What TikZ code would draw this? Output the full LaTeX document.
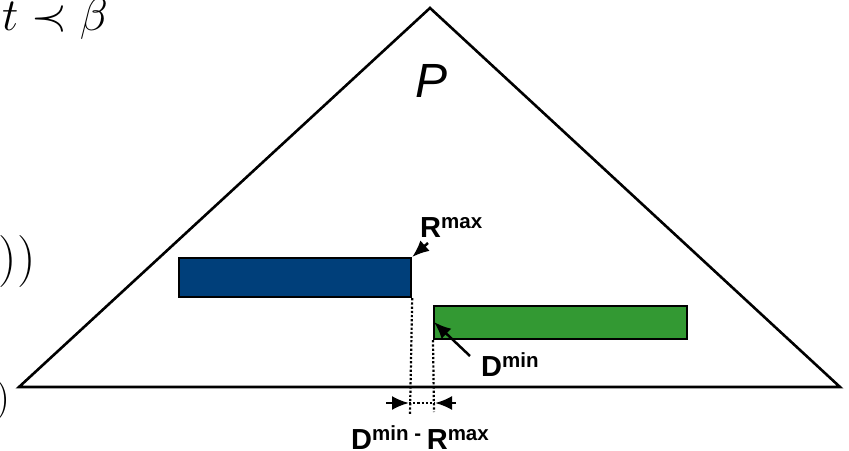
\RequirePackage{fix-cm}
\documentclass[tikz,border=0pt]{standalone}
\usepackage{fontspec}
\newfontfamily\arial{Liberation Sans}
\usetikzlibrary{arrows.meta}
\definecolor{rblue}{HTML}{003F7A}
\definecolor{dgreen}{HTML}{339933}
\tikzset{
  bar/.style={draw=black, line width=2.2pt},
  guide/.style={line width=2.2pt, dotted},
  ptr/.style={line width=2.5pt, -{Latex[length=17pt,width=14pt]}},
  lbl/.style={inner sep=0pt, anchor=base west, font=\arial\bfseries\fontsize{29}{32}\selectfont},
  mathtxt/.style={inner sep=0pt},
}
\newcommand{\supx}[1]{\raisebox{8.5pt}{\fontsize{20.5}{22}\selectfont #1}}
\begin{document}
\begin{tikzpicture}[x=1pt,y=-1pt]
\useasboundingbox (0,0) rectangle (849,450);
\clip (0,0) rectangle (849,450);
% triangle
\coordinate (apex) at (430,8);
\coordinate (bl) at (19,387);
\coordinate (br) at (840,387);
\draw[line width=2.6pt, line join=miter] (bl) -- (apex) -- (br) -- cycle;
\node[inner sep=0pt, anchor=base, font=\arial\itshape\fontsize{48}{50}\selectfont] (P) at (432,97) {P};
% math fragments at left
\node[mathtxt, anchor=base west, font=\fontsize{46}{50}\selectfont] (tb) at (2,30) {$t\prec\beta$};
\node[mathtxt, anchor=base east, font=\fontsize{52}{56}\selectfont] (pp) at (36,274) {$))$};
\node[mathtxt, anchor=base east, font=\fontsize{40}{44}\selectfont] (p1) at (10,410) {$)$};
% bars
\node[bar, fill=rblue, minimum width=232pt, minimum height=39pt, inner sep=0pt, anchor=north west] (R) at (178,257) {};
\node[bar, fill=dgreen, minimum width=253pt, minimum height=33pt, inner sep=0pt, anchor=north west] (D) at (433,305) {};
% dotted guides
\coordinate (rg) at (410,414);
\coordinate (dg) at (434,412);
\draw[guide] (R.south east) -- (rg);
\draw[guide] (D.south west) -- (dg);
\coordinate (la) at (386,403);
\coordinate (lt) at (409,403);
\coordinate (ra) at (456,403);
\coordinate (rt) at (435,403);
\draw[ptr] (la) -- (lt);
\draw[ptr] (ra) -- (rt);
\draw[guide] (lt) -- (rt);
% labels
\node[lbl] (Rlab) at (420,237) {R\supx{max}};
\coordinate (Rtail) at (428,243);
\draw[ptr] (Rtail) -- (R.north east);
\node[lbl] (Dlab) at (481,376) {D\supx{min}};
\coordinate (Dtail) at (470,356);
\coordinate (Dtip) at (434,322);
\draw[ptr] (Dtail) -- (Dtip);
\node[lbl] (gap) at (351,449) {D\supx{min - }R\supx{max}};
\end{tikzpicture}
\end{document}
